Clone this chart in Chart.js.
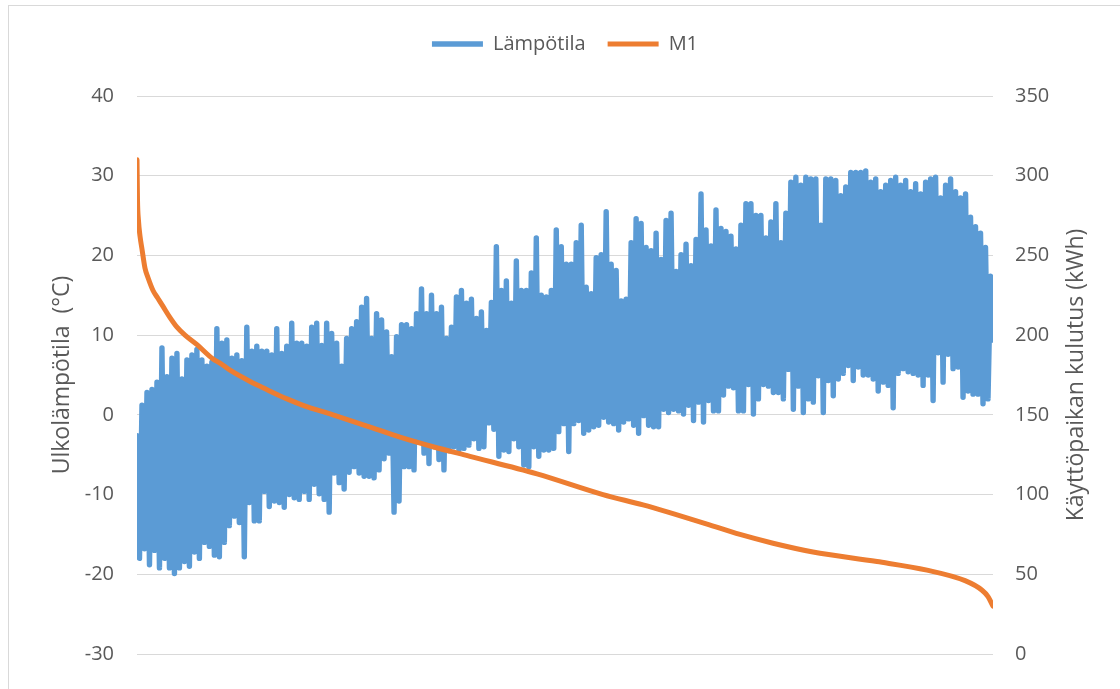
<!DOCTYPE html>
<html>
<head>
<meta charset="utf-8">
<script src="https://cdn.jsdelivr.net/npm/chart.js@4/dist/chart.umd.min.js"></script>
<style>
  html, body { margin: 0; padding: 0; background: #fff; overflow: hidden; }
  #frame { position: absolute; left: 8px; top: 5px; width: 1200px; height: 800px; border: 1px solid #d9d9d9; }
  #wrap { position: absolute; left: 0; top: 0; width: 1120px; height: 689px; }
</style>
</head>
<body>
<div id="frame"></div>
<div id="wrap"><canvas id="chart" width="1120" height="689"></canvas></div>
<script>
// Hours sorted by consumption: hourly temperature swings, as high / low pairs
var highTemps = [
  -2.6, 1.2, 2.8, 3.2, 4.1, 8.4, 4.8, 7.1, 7.7, 4.5,
  6.9, 7.5, 8.2, 6.9, 6.1, 6.6, 10.8, 9.0, 9.4, 7.1,
  7.5, 6.8, 11.0, 8.0, 8.6, 8.0, 8.0, 7.5, 10.8, 7.7,
  8.6, 11.5, 9.0, 9.0, 8.6, 11.0, 11.5, 8.7, 11.5, 10.2,
  9.0, 6.1, 9.6, 10.8, 11.7, 13.5, 14.6, 9.6, 12.7, 11.9,
  10.4, 7.3, 9.8, 11.3, 11.3, 10.8, 12.7, 15.8, 12.7, 15.0,
  12.7, 13.5, 9.6, 11.0, 14.8, 15.6, 14.0, 14.5, 12.1, 12.9,
  10.6, 14.1, 21.1, 15.6, 16.8, 14.0, 19.3, 15.6, 15.6, 17.8,
  22.2, 15.0, 14.8, 15.6, 23.2, 21.1, 18.9, 18.9, 21.6, 23.8,
  16.0, 15.2, 19.7, 20.1, 25.5, 18.9, 18.1, 14.3, 14.5, 21.6,
  24.6, 24.0, 21.0, 20.6, 22.8, 19.5, 24.4, 25.3, 18.0, 20.1,
  21.4, 18.7, 22.0, 27.7, 23.2, 21.2, 25.7, 23.4, 23.0, 22.4,
  20.8, 23.8, 26.5, 26.5, 25.0, 25.0, 22.2, 24.2, 26.5, 21.6,
  25.3, 29.2, 29.8, 28.8, 29.8, 29.6, 29.6, 23.8, 29.6, 29.6,
  29.4, 27.5, 28.6, 30.4, 30.4, 30.4, 30.6, 29.2, 29.6, 28.0,
  28.8, 29.4, 29.8, 28.8, 29.4, 28.0, 29.0, 27.7, 29.2, 29.6,
  29.8, 27.2, 28.8, 29.6, 28.0, 27.2, 27.7, 24.8, 23.6, 22.8,
  21.0, 17.4
];
var lowTemps = [
  -18.0, -16.8, -18.8, -17.0, -19.2, -18.0, -19.2, -19.9, -19.2, -18.4,
  -19.0, -17.2, -18.0, -16.0, -16.5, -17.6, -17.8, -16.0, -13.9, -12.7,
  -13.5, -17.8, -11.0, -13.3, -13.3, -9.6, -11.5, -10.8, -11.0, -11.6,
  -10.0, -10.4, -10.6, -9.6, -10.6, -8.7, -9.9, -10.6, -12.2, -7.3,
  -8.5, -9.3, -7.2, -6.5, -7.3, -7.7, -7.7, -7.9, -6.9, -5.5,
  -4.8, -12.2, -10.8, -6.5, -6.5, -6.9, -3.4, -4.8, -6.1, -4.0,
  -5.6, -6.9, -4.5, -4.0, -4.4, -4.2, -3.8, -3.0, -4.2, -4.0,
  -1.0, -1.8, -5.2, -4.4, -4.6, -3.0, -4.0, -6.3, -6.5, -4.0,
  -5.2, -4.4, -4.4, -4.2, -2.1, -1.1, -4.6, -1.1, -0.7, -2.3,
  -1.9, -1.5, -1.3, -0.3, -0.9, -1.1, -1.9, -0.9, -0.5, -1.3,
  -2.3, -0.1, -1.3, -1.5, -1.5, 0.7, 0.3, 0.7, 0.5, 0.1,
  1.2, -0.7, 1.6, -0.9, 1.8, 0.5, 0.5, 2.5, 3.6, 3.4,
  0.5, 0.5, 3.8, 0.1, 2.0, 3.8, 3.6, 2.8, 2.8, 2.0,
  5.7, 0.7, 3.6, 0.3, 2.0, 1.6, 4.9, 0.3, 4.3, 2.4,
  4.5, 5.2, 6.2, 4.3, 6.0, 5.0, 5.0, 4.5, 3.0, 4.1,
  3.7, 0.9, 5.2, 5.8, 5.4, 5.2, 5.0, 3.7, 5.0, 1.8,
  7.8, 4.1, 7.6, 5.8, 6.0, 2.2, 3.0, 2.6, 2.6, 1.4,
  2.0, 9.4
];

// M1 consumption duration curve (kWh), sampled at these hour ranks
var m1Hours = [0, 5, 15, 31, 51, 82, 113, 164, 215, 266, 338, 409, 491, 614, 778, 849, 952,
  1187, 1289, 1535, 1699, 2006, 2354, 2691, 3029, 3407, 4093, 4768, 5178, 5485, 5833,
  6170, 6508, 6917, 7572, 8084, 8473, 8647, 8708, 8759];
var m1Values = [310, 285, 272, 262, 254, 242, 236, 228, 223, 218, 211, 205, 200, 194, 185, 182.5, 178,
  170, 167, 160, 156, 150, 143, 136, 130, 124, 113, 100, 93.5, 88, 81.5,
  75, 69.5, 64, 58, 52.6, 46, 40, 36, 30];

var tempTicks = [-30, -20, -10, 0, 10, 20, 30, 40];
var kwhTicks = [0, 50, 100, 150, 200, 250, 300, 350];

var totalHours = 8759;
var leftTitle = "Ulkolämpötila  (°C)";
var rightTitle = "Käyttöpaikan kulutus (kWh)";

var textColor = "#595959";
var fontFamily = "'Open Sans', sans-serif";

var step = totalHours / (highTemps.length - 0.5);
var tempPoints = [];
highTemps.forEach(function (hi, i) {
  tempPoints.push({ x: i * step, y: hi });
  tempPoints.push({ x: (i + 0.5) * step, y: lowTemps[i] });
});
var m1Points = m1Hours.map(function (h, i) {
  return { x: h, y: m1Values[i] };
});

// both axis titles read bottom-to-top
var axisTitles = {
  id: "axisTitles",
  afterDraw: function (chart) {
    var ctx = chart.ctx;
    var area = chart.chartArea;
    var mid = (area.top + area.bottom) / 2;
    ctx.save();
    ctx.font = "23px " + fontFamily;
    ctx.fillStyle = textColor;
    ctx.textAlign = "center";
    ctx.textBaseline = "middle";
    [[leftTitle, 62], [rightTitle, 1076]].forEach(function (t) {
      ctx.save();
      ctx.translate(t[1], mid);
      ctx.rotate(-Math.PI / 2);
      ctx.fillText(t[0], 0, 0);
      ctx.restore();
    });
    ctx.restore();
  }
};

function draw() {
  var ctx = document.getElementById("chart");
  new Chart(ctx, {
    type: "line",
    data: {
      datasets: [
        {
          label: "Lämpötila",
          data: tempPoints,
          yAxisID: "y",
          borderColor: "#5B9BD5",
          backgroundColor: "#5B9BD5",
          borderWidth: 5.4,
          borderJoinStyle: "round",
          borderCapStyle: "round",
          pointRadius: 0,
          tension: 0,
          order: 2
        },
        {
          label: "M1",
          data: m1Points,
          yAxisID: "y1",
          borderColor: "#ED7D31",
          backgroundColor: "#ED7D31",
          borderWidth: 5,
          borderCapStyle: "round",
          borderJoinStyle: "round",
          pointRadius: 0,
          cubicInterpolationMode: "monotone",
          order: 1
        }
      ]
    },
    options: {
      responsive: false,
      animation: false,
      events: [],
      layout: { padding: { top: 12, left: 10, right: 0, bottom: 27 } },
      plugins: {
        tooltip: { enabled: false },
        legend: {
          position: "top",
          labels: {
            usePointStyle: true,
            pointStyle: "line",
            pointStyleWidth: 51,
            padding: 22,
            color: textColor,
            font: { family: fontFamily, size: 20 },
            sort: function (a, b) { return a.datasetIndex - b.datasetIndex; }
          }
        }
      },
      scales: {
        x: {
          type: "linear",
          position: "top",
          min: 0,
          max: totalHours,
          grid: { display: false },
          border: { display: false },
          ticks: { display: false },
          afterFit: function (s) { s.height = 32; }
        },
        y: {
          position: "left",
          min: tempTicks[0],
          max: tempTicks[tempTicks.length - 1],
          afterBuildTicks: function (s) { s.ticks = tempTicks.map(function (v) { return { value: v }; }); },
          grid: { color: "#d9d9d9", lineWidth: 1, drawTicks: false },
          border: { display: false },
          ticks: { padding: 23, color: textColor, font: { family: fontFamily, size: 20 } },
          afterFit: function (s) { s.width = 127; }
        },
        y1: {
          position: "right",
          min: kwhTicks[0],
          max: kwhTicks[kwhTicks.length - 1],
          afterBuildTicks: function (s) { s.ticks = kwhTicks.map(function (v) { return { value: v }; }); },
          grid: { display: false, drawTicks: false },
          border: { display: false },
          ticks: { padding: 22, color: textColor, font: { family: fontFamily, size: 20 } },
          afterFit: function (s) { s.width = 127; }
        }
      }
    },
    plugins: [axisTitles]
  });
}

if (document.fonts && document.fonts.load) {
  document.fonts.load("20px 'Open Sans'").then(draw, draw);
} else {
  draw();
}
</script>
</body>
</html>
